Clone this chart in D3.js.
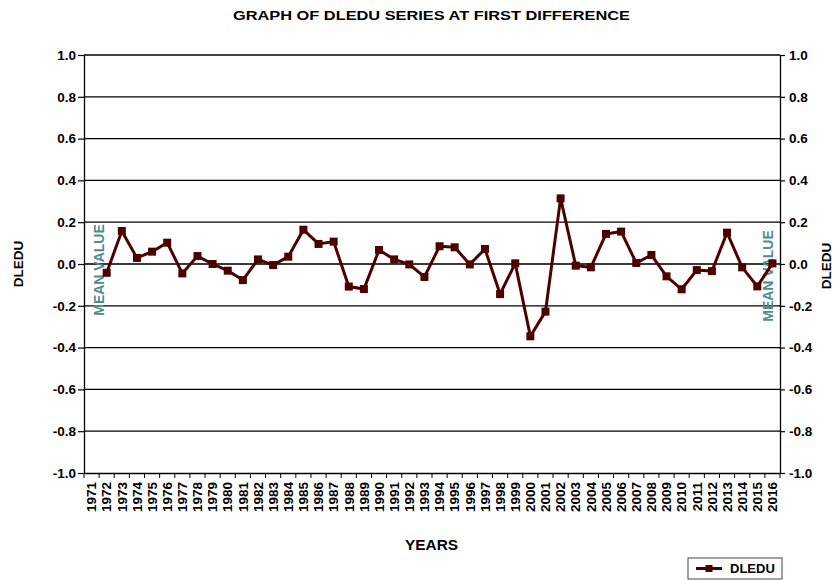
<!DOCTYPE html>
<html>
<head>
<meta charset="utf-8">
<script src="https://cdn.jsdelivr.net/npm/d3@7"></script>
<style>
  html, body { margin: 0; padding: 0; background: #fff; }
  svg { display: block; }
  text { font-family: "Liberation Sans", Arial, Helvetica, sans-serif; font-weight: bold; }
</style>
</head>
<body>
<svg id="chart" width="835" height="580"></svg>
<script>
// ---- data ----
const years = ["1971","1972","1973","1974","1975","1976","1977","1978","1979","1980",
  "1981","1982","1983","1984","1985","1986","1987","1988","1989","1990",
  "1991","1992","1993","1994","1995","1996","1997","1998","1999","2000",
  "2001","2002","2003","2004","2005","2006","2007","2008","2009","2010",
  "2011","2012","2013","2014","2015","2016"];
const dledu = [null, -0.042, 0.158, 0.029, 0.059, 0.102, -0.045, 0.038, 0.000, -0.032,
  -0.077, 0.022, -0.005, 0.035, 0.164, 0.096, 0.107, -0.108, -0.120, 0.067,
  0.022, -0.002, -0.062, 0.085, 0.080, -0.002, 0.072, -0.144, 0.003, -0.346,
  -0.228, 0.314, -0.008, -0.016, 0.144, 0.155, 0.005, 0.043, -0.059, -0.121,
  -0.029, -0.034, 0.150, -0.016, -0.107, 0.003];
const yTicks = [-1.0, -0.8, -0.6, -0.4, -0.2, 0.0, 0.2, 0.4, 0.6, 0.8, 1.0];
const seriesName = "DLEDU";
const titleText = "GRAPH OF DLEDU SERIES AT FIRST DIFFERENCE";
const xTitle = "YEARS";
const meanLabel = "MEAN VALUE";

// ---- layout ----
const L = 84, R = 780, T = 55, B = 473;
const lineColor = "#4d0000";
const teal = "#508c8c";

const svg = d3.select("#chart");
const x = d3.scaleBand().domain(years).range([L, R]).paddingInner(0).paddingOuter(0);
const y = d3.scaleLinear().domain([-1, 1]).range([B, T]);
const fmt = d => (Math.abs(d) < 1e-9 ? 0 : d).toFixed(1);

// gridlines
svg.append("g").selectAll("line").data(yTicks.filter(v => v !== 0 && v !== -1))
  .join("line")
  .attr("x1", L).attr("x2", R)
  .attr("y1", d => y(d)).attr("y2", d => y(d))
  .attr("stroke", "#000").attr("stroke-width", 1.3);
// zero line
svg.append("line").attr("x1", L).attr("x2", R).attr("y1", y(0)).attr("y2", y(0))
  .attr("stroke", "#3a3a3a").attr("stroke-width", 2);

// left axis
const gl = svg.append("g").attr("transform", `translate(${L},0)`)
  .call(d3.axisLeft(y).tickValues(yTicks).tickFormat(fmt).tickSize(6).tickSizeOuter(0).tickPadding(2));
// right axis
const gr = svg.append("g").attr("transform", `translate(${R},0)`)
  .call(d3.axisRight(y).tickValues(yTicks).tickFormat(fmt).tickSize(5).tickSizeOuter(0).tickPadding(4));
[gl, gr].forEach(g => {
  g.selectAll("path").attr("stroke", "#000").attr("stroke-width", 1.3);
  g.selectAll("line").attr("stroke", "#000").attr("stroke-width", 1.2);
  g.selectAll("text").attr("font-size", 13.5).attr("fill", "#000")
    .style("font-family", '"Liberation Sans", Arial, sans-serif').style("font-weight", "bold");
});

// bottom axis (labels)
const gb = svg.append("g").attr("transform", `translate(0,${B})`)
  .call(d3.axisBottom(x).tickSize(0).tickSizeOuter(0));
gb.select("path").attr("stroke", "#000").attr("stroke-width", 1.3);
gb.selectAll("text")
  .attr("transform", "rotate(-90)")
  .attr("x", -9).attr("y", 0).attr("dy", "0.35em")
  .attr("text-anchor", "end")
  .attr("font-size", 13.5).attr("fill", "#000")
  .style("font-family", '"Liberation Sans", Arial, sans-serif').style("font-weight", "bold");
// boundary tick marks
const bounds = years.map(d => x(d)).concat([x(years[years.length - 1]) + x.bandwidth()]);
svg.append("g").selectAll("line").data(bounds).join("line")
  .attr("x1", d => d).attr("x2", d => d)
  .attr("y1", B).attr("y2", B + 5)
  .attr("stroke", "#000").attr("stroke-width", 1);

// mean value labels (behind series)
svg.append("text")
  .attr("transform", `translate(99,270) rotate(-90)`)
  .attr("dy", "0.35em")
  .attr("text-anchor", "middle").attr("font-size", 14).attr("fill", teal)
  .text(meanLabel);
svg.append("text")
  .attr("transform", `translate(768,276) rotate(-90)`)
  .attr("dy", "0.35em")
  .attr("text-anchor", "middle").attr("font-size", 14).attr("fill", teal)
  .text(meanLabel);

// series
const pts = years.map((yr, i) => ({ yr, v: dledu[i] }));
const line = d3.line()
  .defined(d => d.v !== null)
  .x(d => x(d.yr) + x.bandwidth() / 2)
  .y(d => y(d.v));
svg.append("path").datum(pts).attr("d", line)
  .attr("fill", "none").attr("stroke", lineColor).attr("stroke-width", 3)
  .attr("stroke-linejoin", "miter");
const ms = 8;
svg.append("g").selectAll("rect").data(pts.filter(d => d.v !== null)).join("rect")
  .attr("x", d => x(d.yr) + x.bandwidth() / 2 - ms / 2)
  .attr("y", d => y(d.v) - ms / 2)
  .attr("width", ms).attr("height", ms)
  .attr("fill", lineColor);

// titles
svg.append("text").attr("x", 431.5).attr("y", 19.5).attr("text-anchor", "middle")
  .attr("font-size", 13).attr("textLength", 397).attr("lengthAdjust", "spacingAndGlyphs")
  .text(titleText);
svg.append("text").attr("x", 431.5).attr("y", 550).attr("text-anchor", "middle")
  .attr("font-size", 14).attr("textLength", 53).attr("lengthAdjust", "spacingAndGlyphs")
  .text(xTitle);
svg.append("text").attr("transform", "translate(18.5,264) rotate(-90)")
  .attr("dy", "0.35em").attr("text-anchor", "middle").attr("font-size", 13.5)
  .text(seriesName);
svg.append("text").attr("transform", "translate(826.5,266) rotate(-90)")
  .attr("dy", "0.35em").attr("text-anchor", "middle").attr("font-size", 13.5)
  .text(seriesName);

// legend
const lg = svg.append("g").attr("transform", "translate(688,558)");
lg.append("rect").attr("x", 0).attr("y", 0).attr("width", 94).attr("height", 21)
  .attr("fill", "#fff").attr("stroke", "#444").attr("stroke-width", 1);
lg.append("line").attr("x1", 8).attr("x2", 34).attr("y1", 10.5).attr("y2", 10.5)
  .attr("stroke", lineColor).attr("stroke-width", 3);
lg.append("rect").attr("x", 21 - 3.5).attr("y", 10.5 - 3.5).attr("width", 7).attr("height", 7)
  .attr("fill", lineColor);
lg.append("text").attr("x", 42).attr("y", 15).attr("font-size", 13).text(seriesName);
</script>
</body>
</html>
